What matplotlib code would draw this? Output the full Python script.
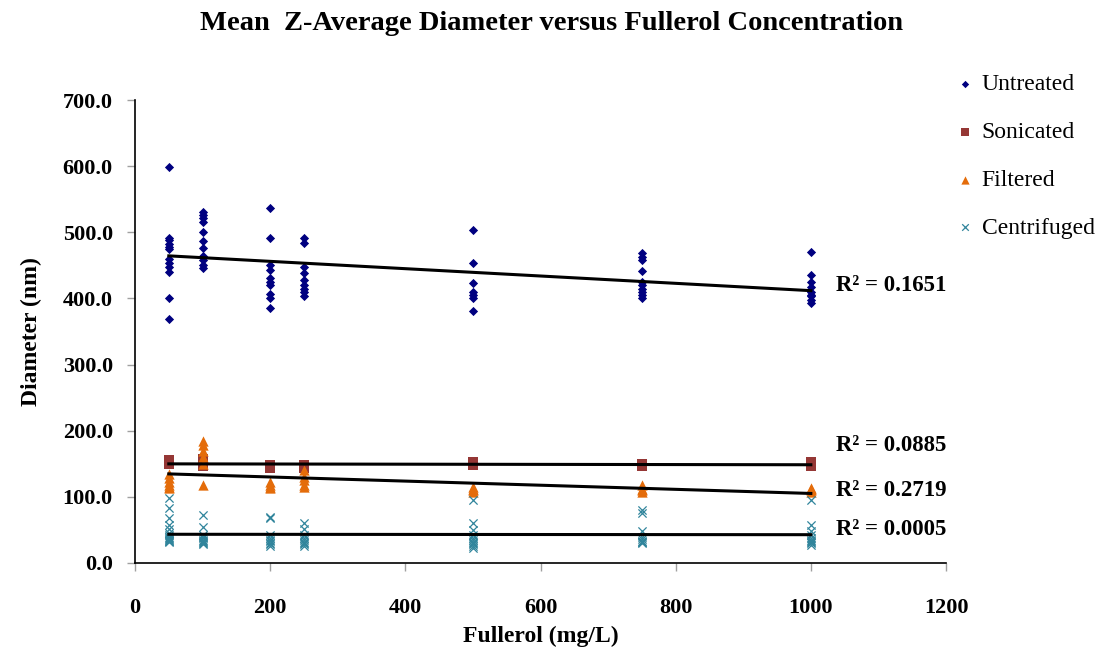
import numpy as np
import matplotlib
matplotlib.use("Agg")
import matplotlib.pyplot as plt

plt.rcParams['font.family'] = ['Liberation Serif', 'DejaVu Serif']

# ---- data ----
untreated_x = [50]*12 + [100]*11 + [200]*10 + [250]*9 + [500]*7 + [750]*10 + [1000]*9
untreated_y = [599, 492, 488, 483, 478, 474, 459, 453, 447, 440, 401, 369,
               530, 526, 522, 516, 500, 487, 476, 464, 458, 451, 446,
               536, 492, 451, 443, 431, 425, 420, 407, 401, 386,
               491, 484, 448, 439, 428, 420, 415, 409, 404,
               504, 453, 423, 410, 405, 400, 381,
               468, 463, 458, 442, 425, 420, 415, 410, 405, 400,
               470, 435, 425, 418, 410, 405, 403, 398, 393]

sonicated_x = [50, 50, 100, 100, 100, 200, 200, 250, 250, 500, 500, 750, 750, 1000, 1000]
sonicated_y = [155, 150, 157, 152, 147, 148, 144, 148, 143, 153, 148, 150, 147, 152, 147]

filtered_x = [50]*6 + [100]*6 + [200]*4 + [250]*5 + [500]*4 + [750]*4 + [1000]*4
filtered_y = [135, 128, 122, 118, 115, 113,
              185, 178, 170, 160, 150, 118,
              122, 118, 115, 113,
              140, 130, 125, 118, 115,
              115, 112, 110, 108,
              118, 112, 110, 108,
              114, 112, 110, 108]

centrifuged_x = [50]*14 + [100]*10 + [200]*9 + [250]*9 + [500]*11 + [750]*9 + [1000]*10
centrifuged_y = [99, 83, 68, 57, 52, 45, 42, 40, 38, 36, 35, 34, 33, 32,
                 73, 55, 42, 40, 38, 35, 33, 32, 30, 28,
                 70, 68, 42, 38, 35, 33, 30, 28, 25,
                 60, 52, 42, 38, 35, 32, 30, 28, 25,
                 95, 60, 50, 42, 38, 35, 32, 30, 28, 25, 22,
                 80, 75, 48, 40, 36, 34, 32, 31, 30,
                 95, 58, 48, 42, 38, 35, 33, 31, 30, 27]

r2_labels = ["R² = 0.1651", "R² = 0.0885", "R² = 0.2719", "R² = 0.0005"]
r2_y = [420, 177, 110, 50]

x_ticks = [0, 200, 400, 600, 800, 1000, 1200]
y_ticks = [0, 100, 200, 300, 400, 500, 600, 700]

# ---- figure ----
fig = plt.figure(figsize=(11, 6.52), dpi=100)
ax = fig.add_axes([135/1100, 1 - 563/652, (946-135)/1100, (563-100)/652])

series = [
    ("Untreated", untreated_x, untreated_y, dict(marker='D', color='#000080', s=22, linewidths=0)),
    ("Sonicated", sonicated_x, sonicated_y, dict(marker='s', color='#953735', s=55, linewidths=0)),
    ("Filtered", filtered_x, filtered_y, dict(marker='^', color='#E46C0A', s=55, linewidths=0)),
    ("Centrifuged", centrifuged_x, centrifuged_y, dict(marker='x', color='#31859C', s=35, linewidths=0.9)),
]

for name, xs, ys, kw in series:
    ax.scatter(xs, ys, label=name, zorder=3, **kw)

for name, xs, ys, kw in series:
    xs_a = np.array(xs, float); ys_a = np.array(ys, float)
    m, b = np.polyfit(xs_a, ys_a, 1)
    xl = np.array([50, 1000])
    ax.plot(xl, m*xl + b, color='black', lw=2.2, zorder=4)

for lab, yy in zip(r2_labels, r2_y):
    ax.text(1037, yy, lab, fontsize=16.5, fontweight='bold', va='center', ha='left')

ax.set_xlim(0, 1200)
ax.set_ylim(0, 700)
ax.set_xticks(x_ticks)
ax.set_yticks(y_ticks)
ax.set_xticklabels([str(t) for t in x_ticks], fontsize=16, fontweight='bold')
ax.set_yticklabels([f"{t:.1f}" for t in y_ticks], fontsize=16, fontweight='bold')
ax.spines['top'].set_visible(False)
ax.spines['right'].set_visible(False)
ax.spines['left'].set_linewidth(1.2)
ax.spines['bottom'].set_linewidth(1.2)
ax.tick_params(axis='both', direction='out', length=6, width=1, color='#a0a0a0')
ax.tick_params(axis='x', pad=19)
ax.tick_params(axis='y', pad=10)

ax.set_xlabel("Fullerol (mg/L)", fontsize=17, fontweight='bold', labelpad=6)
ax.set_ylabel("Diameter (nm)", fontsize=17, fontweight='bold', labelpad=15)
fig.text(552/1100, 1 - 24/652, "Mean  Z-Average Diameter versus Fullerol Concentration",
         fontsize=20.5, fontweight='bold', ha='center', va='center')

leg = ax.legend(loc='upper left', bbox_to_anchor=(932/1100, 1 - 52/652),
                bbox_transform=fig.transFigure, frameon=False, fontsize=17,
                handletextpad=0.2, labelspacing=1.12, markerscale=0.8, handlelength=1.0)

fig.savefig("out.png", dpi=100)
